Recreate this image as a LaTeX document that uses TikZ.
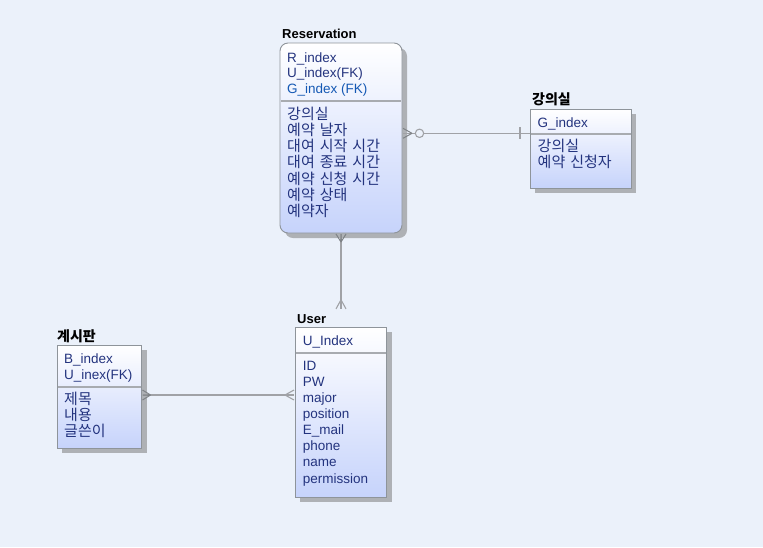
\documentclass[tikz,border=0pt]{standalone}
\usepackage{fontspec}
\setmainfont{Liberation Sans}
\newfontfamily\kr[WordSpace=1.5]{Noto Sans CJK KR}
\usetikzlibrary{calc}
\definecolor{bgc}{HTML}{EBF1FA}
\definecolor{txtc}{HTML}{23337E}
\definecolor{fkc}{HTML}{1458B4}
\definecolor{bordc}{HTML}{8E949A}
\definecolor{divc}{HTML}{A8ABB0}
\definecolor{shc}{HTML}{AEB1B5}
\definecolor{botc}{HTML}{C6D3FB}
\definecolor{connc}{HTML}{A0A2A6}
\definecolor{footc}{HTML}{7E8286}
\tikzset{
  ebox/.style={draw=bordc, line width=0.9pt, top color=white, bottom color=botc, inner sep=0pt, outer sep=0pt, anchor=north west},
  divline/.style={draw=divc, line width=1.8pt},
  lat/.style={anchor=base west, inner sep=0pt, text=txtc, font=\fontsize{13.5}{16}\selectfont},
  kor/.style={anchor=base west, inner sep=0pt, text=txtc, font=\kr\fontsize{15}{16}\selectfont},
  ttl/.style={anchor=base west, inner sep=0pt, text=black, font=\bfseries\fontsize{13}{16}\selectfont},
  kttl/.style={anchor=base west, inner sep=0pt, text=black, font=\kr\bfseries\fontsize{14}{16}\selectfont},
  conn/.style={draw=connc, line width=1.1pt},
  foot/.style={draw=footc, line width=1pt},
}
\begin{document}
\begin{tikzpicture}[x=1pt,y=-1pt]
\fill[bgc] (0,0) rectangle (763,547);
\useasboundingbox (0,0) rectangle (763,547);

% ---------- Reservation ----------
\fill[shc, rounded corners=8pt] (285,48) rectangle (407,238);
\node[ebox, rounded corners=8pt, minimum width=122pt, minimum height=190pt] (res) at (280,43) {};
\draw[divline] ($(res.west |- 0,101)+(1,0)$) coordinate (rd1) -- ($(res.east |- 0,101)+(-1,0)$) coordinate (rd2);
\node[ttl] (rest) at (282,38) {Reservation};
\node[lat] (r1) at (287,62) {R\_index};
\node[lat] (r2) at (287,77.5) {U\_index(FK)};
\node[lat, text=fkc] (r3) at (287,93) {G\_index (FK)};
\node[kor] (r4) at (287,119) {강의실};
\node[kor] (r5) at (287,135.3) {예약 날자};
\node[kor] (r6) at (287,151.5) {대여 시작 시간};
\node[kor] (r7) at (287,167.8) {대여 종료 시간};
\node[kor] (r8) at (287,184) {예약 신청 시간};
\node[kor] (r9) at (287,200.3) {예약 상태};
\node[kor] (r10) at (287,216.5) {예약자};

% ---------- 강의실 ----------
\fill[shc] (535,114) rectangle (636,193);
\node[ebox, minimum width=101pt, minimum height=79pt] (gang) at (530,109) {};
\draw[divline] ($(gang.west |- 0,134)+(0.5,0)$) coordinate (gd1) -- ($(gang.east |- 0,134)+(-0.5,0)$) coordinate (gd2);
\node[kttl] (gt) at (532,104) {강의실};
\node[lat] (g1) at (537.5,127) {G\_index};
\node[kor] (g2) at (537.5,151) {강의실};
\node[kor] (g3) at (537.5,167.5) {예약 신청자};

% ---------- 계시판 ----------
\fill[shc] (62,350) rectangle (147,453);
\node[ebox, minimum width=84.5pt, minimum height=103pt] (board) at (57,345) {};
\draw[divline] ($(board.west |- 0,386.7)+(0.5,0)$) coordinate (bd1) -- ($(board.east |- 0,386.7)+(-0.5,0)$) coordinate (bd2);
\node[kttl] (bt) at (57,341) {계시판};
\node[lat] (b1) at (64,363) {B\_index};
\node[lat] (b2) at (64,379) {U\_inex(FK)};
\node[kor] (b3) at (64,404) {제목};
\node[kor] (b4) at (64,420) {내용};
\node[kor] (b5) at (64,436.5) {글쓴이};

% ---------- User ----------
\fill[shc] (300,332) rectangle (392,502);
\node[ebox, minimum width=91.5pt, minimum height=170pt] (user) at (295,327) {};
\draw[divline] ($(user.west |- 0,352.7)+(0.5,0)$) coordinate (ud1) -- ($(user.east |- 0,352.7)+(-0.5,0)$) coordinate (ud2);
\node[ttl] (ut) at (297,323) {User};
\node[lat] (u1) at (302.7,345) {U\_Index};
\node[lat] (u2) at (302.7,370) {ID};
\node[lat] (u3) at (302.7,386) {PW};
\node[lat] (u4) at (302.7,402) {major};
\node[lat] (u5) at (302.7,418) {position};
\node[lat] (u6) at (302.7,434) {E\_mail};
\node[lat] (u7) at (302.7,450.3) {phone};
\node[lat] (u8) at (302.7,466.5) {name};
\node[lat] (u9) at (302.7,483) {permission};

% ---------- connectors ----------
% Reservation -- 강의실
\coordinate (rg1) at ($(res.east |- 0,133.3)+(1,0)$);
\coordinate (rg2) at (gang.west |- 0,133.3);
\draw[conn] (rg1) -- (rg2);
\draw[foot] ($(rg1)+(9,0)$) -- ($(rg1)+(0,-5)$) ($(rg1)+(9,0)$) -- ($(rg1)+(0,5)$);
\draw[conn, fill=bgc] ($(rg1)+(16.5,0)$) circle (4.2pt);
\draw[conn] ($(rg2)+(-10,-6)$) -- ($(rg2)+(-10,6)$);

% Reservation -- User
\coordinate (ru1) at ($(res.south)+(0,1)$);
\coordinate (ru2) at ($(ut.north -| res.south)+(0,-5)$);
\draw[conn] (ru1) -- (ru2);
\draw[foot] ($(ru1)+(0,8)$) -- ($(ru1)+(-5,0)$) ($(ru1)+(0,8)$) -- ($(ru1)+(5,0)$) ($(ru1)+(0,8)$) -- (ru1);
\draw[conn] ($(ru2)+(0,-9)$) -- ($(ru2)+(-5,0)$) ($(ru2)+(0,-9)$) -- ($(ru2)+(5,0)$);

% 계시판 -- User
\coordinate (bu1) at ($(board.east |- 0,395)+(1,0)$);
\coordinate (bu2) at ($(user.west |- 0,395)+(-1,0)$);
\draw[conn] (bu1) -- (bu2);
\draw[foot] ($(bu1)+(8,0)$) -- ($(bu1)+(0,-5)$) ($(bu1)+(8,0)$) -- ($(bu1)+(0,5)$) ($(bu1)+(8,0)$) -- (bu1);
\draw[conn] ($(bu2)+(-9,0)$) -- ($(bu2)+(0,-5)$) ($(bu2)+(-9,0)$) -- ($(bu2)+(0,5)$);
\end{tikzpicture}
\end{document}
